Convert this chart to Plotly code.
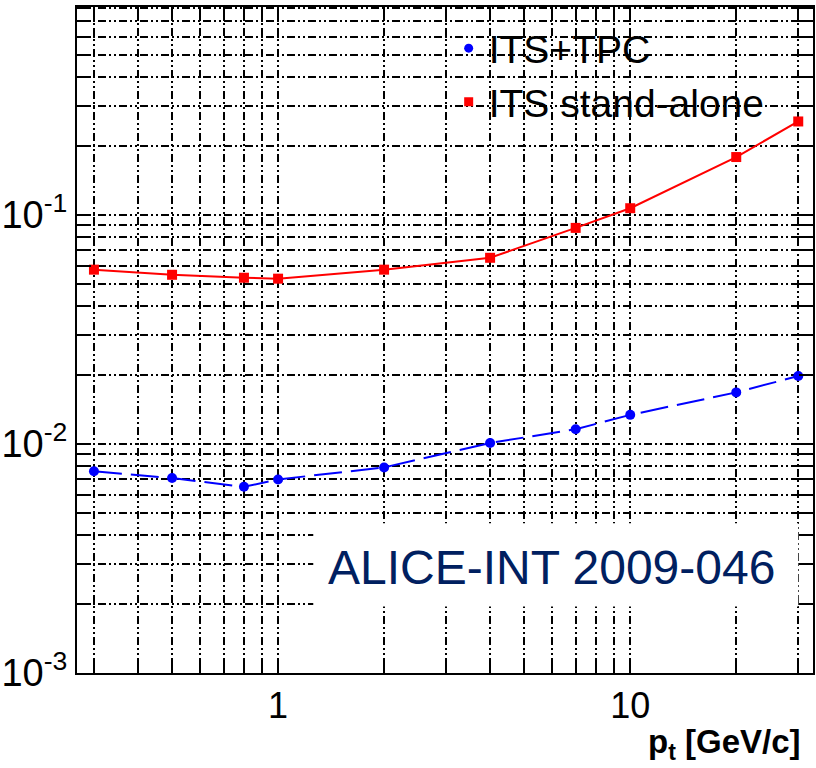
import plotly.graph_objects as go

pt = [0.3, 0.5, 0.8, 1, 2, 4, 7, 10, 20, 30]
its_tpc = [0.0076, 0.0071, 0.0065, 0.0070, 0.0079, 0.0101, 0.0116, 0.0134, 0.0168, 0.0198]
its_sa = [0.0577, 0.0548, 0.0532, 0.0527, 0.0577, 0.0650, 0.0878, 0.107, 0.179, 0.256]

x_grid = [0.3, 0.4, 0.5, 0.6, 0.7, 0.8, 0.9, 1, 2, 3, 4, 5, 6, 7, 8, 9, 10, 20, 30]
x_labels = {1: "1", 10: "10"}
y_grid = [m * 10.0 ** e for e in (-3, -2, -1) for m in range(1, 10)][:-1]
y_labels = {0.001: "10<sup>-3</sup>", 0.01: "10<sup>-2</sup>", 0.1: "10<sup>-1</sup>"}

FONT = "Liberation Sans, Arial, sans-serif"
GRID_DASH = "8px,3px,2px,3px,2px,3px"
BLUE = "#0000ff"
RED = "#ff0000"

fig = go.Figure()
fig.add_trace(go.Scatter(x=pt, y=its_tpc, name="ITS+TPC", mode="lines+markers", showlegend=False,
                         line=dict(color=BLUE, width=2, dash="28px,9px"),
                         marker=dict(symbol="circle", size=10, color=BLUE)))
fig.add_trace(go.Scatter(x=pt, y=its_sa, name="ITS stand-alone", mode="lines+markers", showlegend=False,
                         line=dict(color=RED, width=2),
                         marker=dict(symbol="square", size=10, color=RED)))
# legend entries (marker only, as in the reference)
fig.add_trace(go.Scatter(x=[None], y=[None], name="ITS+TPC", mode="markers",
                         marker=dict(symbol="circle", size=9, color=BLUE)))
fig.add_trace(go.Scatter(x=[None], y=[None], name="ITS stand-alone", mode="markers",
                         marker=dict(symbol="square", size=9, color=RED)))

def ytext(v):
    for k, t in y_labels.items():
        if abs(v - k) < 1e-12:
            return t
    return ""

axis_common = dict(
    showline=True, linecolor="black", linewidth=2, mirror="allticks",
    ticks="inside", ticklen=14, tickwidth=2, tickcolor="black",
    showgrid=True, gridcolor="black", gridwidth=1.8, griddash=GRID_DASH,
    zeroline=False,
)

fig.update_xaxes(type="log", range=[-0.571, 1.519], tickmode="array",
                 tickvals=x_grid, ticktext=[x_labels.get(v, "") for v in x_grid],
                 tickfont=dict(family=FONT, size=36, color="black"), **axis_common)
fig.update_yaxes(type="log", range=[-3, -0.092], tickmode="array",
                 tickvals=y_grid, ticktext=[ytext(v) for v in y_grid],
                 tickfont=dict(family=FONT, size=38, color="black"), **axis_common)

fig.add_shape(type="rect", xref="paper", yref="paper", x0=0.321, x1=0.980, y0=0.100, y1=0.225,
              fillcolor="white", line=dict(width=0), layer="above")
fig.add_annotation(xref="paper", yref="paper", x=0.645, y=0.159, text="ALICE-INT 2009-046",
                   showarrow=False, xanchor="center", yanchor="middle",
                   font=dict(family=FONT, size=48, color="#002060"))
fig.add_annotation(xref="paper", yref="paper", x=0.987, y=-0.107, text="<b>p<sub>t</sub> [GeV/c]</b>",
                   showarrow=False, xanchor="right", yanchor="middle",
                   font=dict(family=FONT, size=33, color="black"))

fig.update_layout(
    width=816, height=768,
    margin=dict(l=71, r=1, t=7, b=95),
    plot_bgcolor="white", paper_bgcolor="white",
    showlegend=True,
    legend=dict(x=0.505, y=0.986, xanchor="left", yanchor="top",
                bgcolor="rgba(0,0,0,0)", borderwidth=0,
                font=dict(family=FONT, size=39, color="black"),
                tracegroupgap=0),
)

fig.write_html("out.html")
